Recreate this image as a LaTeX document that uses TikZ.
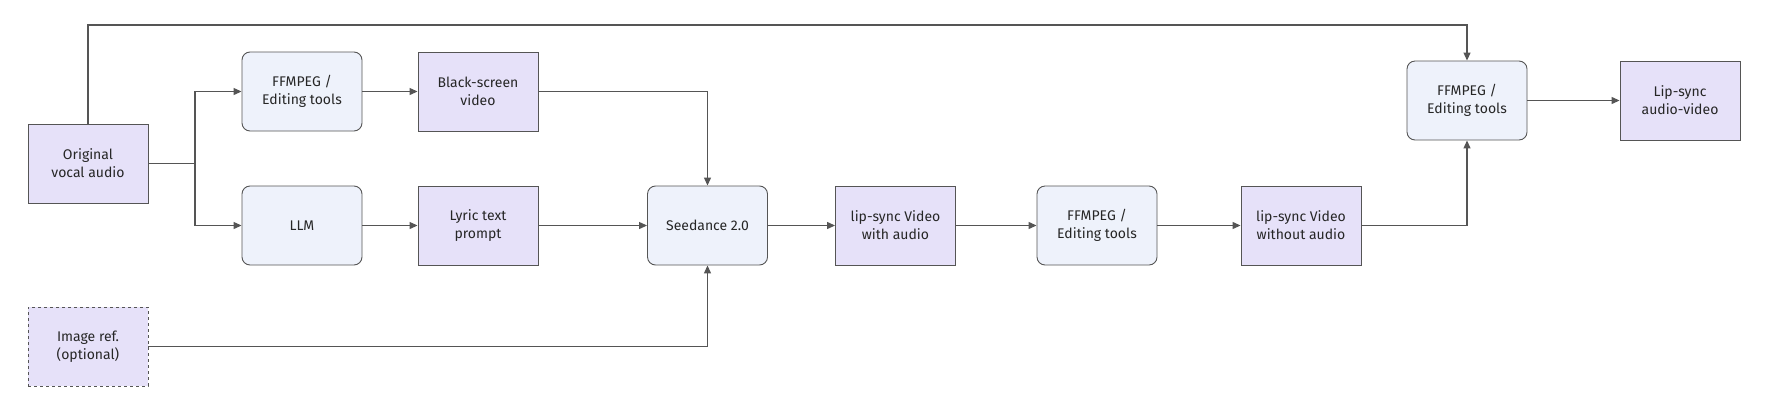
\documentclass[tikz,border=0pt]{standalone}
\usepackage{fontspec}
\setmainfont{Fira Sans}
\usetikzlibrary{arrows.meta}
\definecolor{datafill}{HTML}{E6E1F9}
\definecolor{toolfill}{HTML}{EEF2FB}
\definecolor{edgegray}{HTML}{555555}

\begin{document}
\begin{tikzpicture}[x=1pt,y=-1pt,
    data/.style={draw=edgegray,line width=0.9pt,fill=datafill,minimum width=120pt,
        minimum height=79pt,align=center,font=\fontsize{14}{18}\selectfont,text=black!85},
    tool/.style={data,fill=toolfill,rounded corners=8pt},
    opt/.style={data,dashed},
    flow/.style={draw=edgegray,line width=1.2pt,-{Triangle[length=8pt,width=7pt]}},
    link/.style={draw=edgegray,line width=1.2pt}]

        \useasboundingbox (0,0) rectangle (1768,410);

        \node[data] (orig)   at (88,163.5)   {Original\\vocal audio};
        \node[tool] (ffa)    at (302,91.5)   {FFMPEG /\\Editing tools};
        \node[data] (black)  at (478,91.5)   {Black-screen\\video};
        \node[tool] (llm)    at (302,225.5)  {LLM};
        \node[data] (lyric)  at (478,225.5)  {Lyric text\\prompt};
        \node[opt]  (imgref) at (88,346.5)   {Image ref.\\(optional)};
        \node[tool] (seed)   at (707.5,225.5) {Seedance 2.0};
        \node[data] (withau) at (895.5,225.5) {lip-sync Video\\with audio};
        \node[tool] (ffb)    at (1097,225.5) {FFMPEG /\\Editing tools};
        \node[data] (noau)   at (1301,225.5) {lip-sync Video\\without audio};
        \node[tool] (ffc)    at (1467,100.5) {FFMPEG /\\Editing tools};
        \node[data] (final)  at (1680,100.5) {Lip-sync\\audio-video};

        \coordinate (split) at (195,163.5);
        \coordinate (top) at (88,25);

        % audio branches
        \draw[link] (orig.east) -- (split);
        \draw[flow] (split) |- (ffa.west);
        \draw[flow] (split) |- (llm.west);
        \draw[flow] (ffa) -- (black);
        \draw[flow] (llm) -- (lyric);

        % into seedance
        \draw[flow] (black.east) -| (seed.north);
        \draw[flow] (lyric) -- (seed);
        \draw[flow] (imgref.east) -| (seed.south);

        % video chain
        \draw[flow] (seed) -- (withau);
        \draw[flow] (withau) -- (ffb);
        \draw[flow] (ffb) -- (noau);
        \draw[flow] (noau.east) -| (ffc.south);
        \draw[flow] (orig.north) -- (top) -| (ffc.north);
        \draw[flow] (ffc) -- (final);
\end{tikzpicture}
\end{document}
